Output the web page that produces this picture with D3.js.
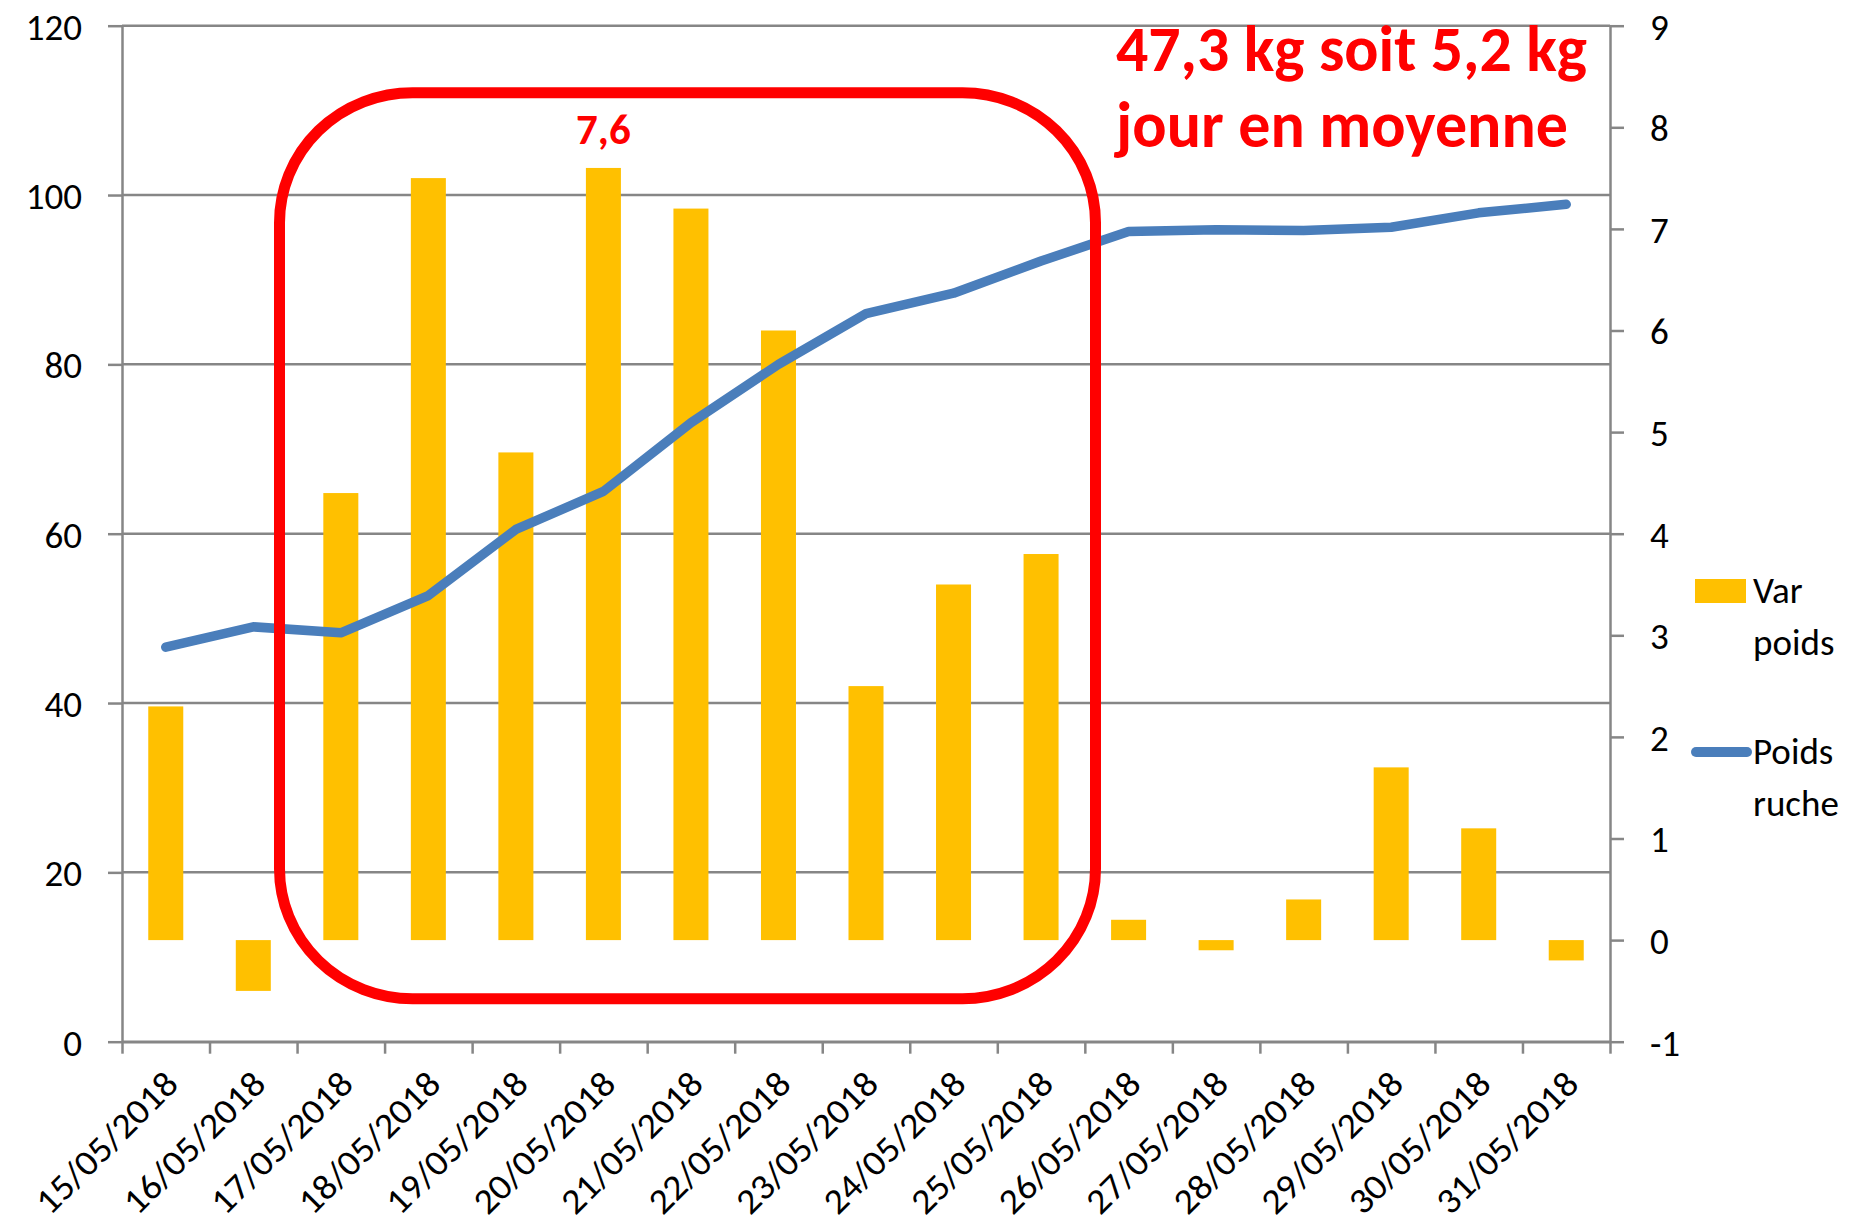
<!DOCTYPE html>
<meta charset="UTF-8">
<head>
<title>Poids ruche</title>
<style>
body { margin: 0; background: #fff; }
svg { display: block; }
text { font-family: Calibri, Carlito, Lato, sans-serif; fill: #000; }
.axis text { font-size: 37px; }
.axis path, .axis line { stroke: #868686; stroke-width: 2.5px; }
.grid line { stroke: #868686; stroke-width: 2.5px; }
.note { fill: #ff0000; font-weight: bold; }
</style>
</head>
<body>

<script src="https://d3js.org/d3.v7.min.js"></script>

<script>

// dates (categories)
var dates = ["15/05/2018", "16/05/2018", "17/05/2018", "18/05/2018", "19/05/2018",
             "20/05/2018", "21/05/2018", "22/05/2018", "23/05/2018", "24/05/2018",
             "25/05/2018", "26/05/2018", "27/05/2018", "28/05/2018", "29/05/2018",
             "30/05/2018", "31/05/2018"];

// daily weight variation (kg), right axis
var varPoids = [2.3, -0.5, 4.4, 7.5, 4.8, 7.6, 7.2, 6.0, 2.5, 3.5, 3.8, 0.2, -0.1, 0.4, 1.7, 1.1, -0.2];

// hive weight (kg), left axis
var poidsRuche = [46.6, 49.0, 48.3, 52.7, 60.5, 65.0, 73.1, 80.0, 86.0, 88.4, 92.2, 95.7, 95.9, 95.8, 96.2, 97.9, 98.9];

var leftTicks = [0, 20, 40, 60, 80, 100, 120];
var rightTicks = [-1, 0, 1, 2, 3, 4, 5, 6, 7, 8, 9];

var width = 1868, height = 1223;
var plot = {left: 122, right: 1610, top: 25.7, bottom: 1041.7};

var svg = d3.select("body").append("svg")
    .attr("width", width)
    .attr("height", height);

var x = d3.scaleBand()
    .domain(dates)
    .range([plot.left, plot.right])
    .paddingInner(0.6)
    .paddingOuter(0.3);

// category boundaries for the tick marks
var xEdge = d3.scaleLinear()
    .domain([0, dates.length])
    .range([plot.left, plot.right]);

var yLeft = d3.scaleLinear().domain([0, 120]).range([plot.bottom, plot.top]);
var yRight = d3.scaleLinear().domain([-1, 9]).range([plot.bottom, plot.top]);

function cx(d) { return x(d) + x.bandwidth() / 2; }

// gridlines
svg.append("g").attr("class", "grid")
  .selectAll("line")
  .data(leftTicks)
  .enter().append("line")
    .attr("x1", plot.left).attr("x2", plot.right)
    .attr("y1", function(d) { return yLeft(d); })
    .attr("y2", function(d) { return yLeft(d); });

// bars
svg.append("g")
  .selectAll("rect")
  .data(dates)
  .enter().append("rect")
    .attr("x", function(d) { return x(d); })
    .attr("width", x.bandwidth())
    .attr("y", function(d, i) { return yRight(Math.max(0, varPoids[i])); })
    .attr("height", function(d, i) { return Math.abs(yRight(varPoids[i]) - yRight(0)); })
    .style("fill", "#ffc000");

// line
var line = d3.line()
    .x(function(d, i) { return cx(dates[i]); })
    .y(function(d) { return yLeft(d); });

svg.append("path")
    .datum(poidsRuche)
    .attr("d", line)
    .style("fill", "none")
    .style("stroke", "#4a7ebb")
    .style("stroke-width", 9.5)
    .style("stroke-linejoin", "round")
    .style("stroke-linecap", "round");

// axes
svg.append("g").attr("class", "axis")
    .attr("transform", "translate(" + plot.left + ",0)")
    .call(d3.axisLeft(yLeft).tickValues(leftTicks).tickSize(14).tickSizeOuter(0).tickPadding(26))
  .selectAll("text").attr("dy", "0.36em");

svg.append("g").attr("class", "axis")
    .attr("transform", "translate(" + plot.right + ",0)")
    .call(d3.axisRight(yRight).tickValues(rightTicks).tickSize(14).tickSizeOuter(0).tickPadding(26)
      .tickFormat(function(d) { return String(d); }))
  .selectAll("text").attr("dy", "0.36em");

svg.append("g").attr("class", "axis")
    .attr("transform", "translate(0," + plot.bottom + ")")
    .call(d3.axisBottom(xEdge).tickValues(d3.range(dates.length + 1)).tickSize(12).tickSizeOuter(0).tickFormat(""));

svg.append("g").attr("class", "axis")
  .selectAll("text")
  .data(dates)
  .enter().append("text")
    .attr("transform", function(d) {
      return "translate(" + (cx(d) - 4) + "," + (plot.bottom + 26) + ") rotate(-45)";
    })
    .attr("text-anchor", "end")
    .attr("dy", "0.72em")
    .attr("textLength", 184)
    .attr("lengthAdjust", "spacingAndGlyphs")
    .style("font-size", "36px")
    .text(function(d) { return d; });

// red box around the honey flow
svg.append("rect")
    .attr("x", 279.5).attr("y", 92.7)
    .attr("width", 816).attr("height", 906)
    .attr("rx", 133).attr("ry", 130)
    .style("fill", "none")
    .style("stroke", "#ff0000")
    .style("stroke-width", 11);

// max label
svg.append("text")
    .attr("class", "note")
    .attr("x", cx(dates[5]))
    .attr("y", 144)
    .attr("text-anchor", "middle")
    .style("font-size", "43px")
    .text("7,6");

var note = svg.append("g");
[["47,3 kg soit 5,2 kg", 70.7, 471], ["jour en moyenne", 146.7, 452]].forEach(function(l) {
  var t = note.append("text")
      .attr("class", "note")
      .attr("x", 1116)
      .attr("y", l[1])
      .style("font-size", "54px")
      .text(l[0]);
  var w = t.node().getComputedTextLength();
  t.style("font-size", (54 * l[2] / w) + "px");
});

// legend
var legend = svg.append("g").attr("class", "axis");
legend.append("rect")
    .attr("x", 1695).attr("y", 579)
    .attr("width", 51).attr("height", 24)
    .style("fill", "#ffc000");
legend.append("line")
    .attr("x1", 1696).attr("x2", 1747)
    .attr("y1", 752).attr("y2", 752)
    .style("stroke", "#4a7ebb")
    .style("stroke-width", 10)
    .style("stroke-linecap", "round");
[["Var", 603], ["poids", 655], ["Poids", 764], ["ruche", 816]].forEach(function(l) {
  legend.append("text")
      .attr("x", 1753)
      .attr("y", l[1])
      .text(l[0]);
});

</script>
</body>
</html>
